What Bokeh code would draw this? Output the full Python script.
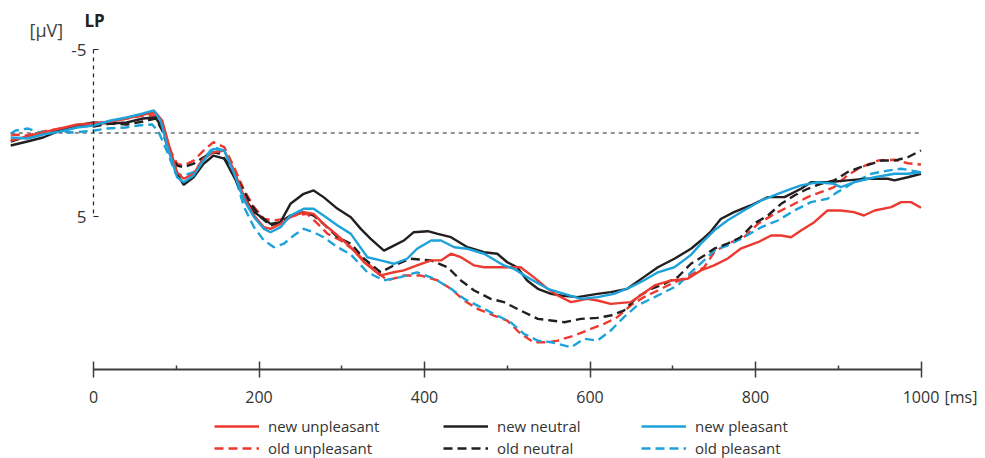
from bokeh.plotting import figure
from bokeh.models import Range1d, LinearAxis, FixedTicker, Label, Legend, LegendItem
from bokeh.embed import file_html
from bokeh.resources import INLINE

# ---- ERP averages at LP site (time in ms, amplitude in µV) ----
t_new_unpleasant = [-100, -80, -61, -40, -20, 0, 21, 40, 60, 75, 83, 93, 101, 109, 121, 133, 145, 158, 170, 182,
                    194, 206, 214, 226, 238, 254, 266, 278, 295, 311, 327, 347, 363, 375, 391, 408, 420, 432, 444, 460,
                    472, 516, 532, 549, 561, 577, 597, 609, 625, 649, 661, 678, 698, 718, 734, 750, 766, 782, 803, 819,
                    831, 843, 855, 871, 887, 903, 919, 931, 944, 964, 976, 988, 1000]
v_new_unpleasant = [0.45, 0.21, -0.03, -0.27, -0.51, -0.57, -0.69, -0.87, -1.11, -1.23, -0.75, 1.05, 2.35, 2.74, 2.44,
                    1.54, 1.15, 1.05, 2.25, 3.84, 4.94, 5.64, 5.74, 5.44, 5.04, 4.74, 4.84, 5.44, 6.14, 6.84, 7.74,
                    8.53, 8.34, 8.23, 7.93, 7.63, 7.63, 7.23, 7.44, 7.93, 8.04, 8.04, 8.63, 9.33, 9.73, 10.13, 9.93,
                    10.03, 10.23, 10.13, 9.73, 9.13, 8.83, 8.73, 8.23, 7.93, 7.53, 6.93, 6.54, 6.14, 6.14, 6.24, 5.84,
                    5.34, 4.64, 4.64, 4.74, 4.94, 4.64, 4.44, 4.14, 4.14, 4.48]

t_new_neutral = [-100, -80, -61, -40, -20, 0, 21, 40, 60, 75, 83, 89, 95, 101, 109, 121, 133, 145, 158, 170, 182, 194,
                 206, 214, 226, 238, 254, 266, 278, 295, 311, 323, 335, 351, 363, 375, 387, 404, 416, 432, 452, 472,
                 488, 500, 512, 524, 537, 553, 565, 585, 609, 625, 645, 665, 682, 702, 722, 734, 746, 758, 774, 794,
                 815, 835, 855, 867, 887, 911, 936, 960, 968, 984, 1000]
v_new_neutral = [0.75, 0.51, 0.27, -0.15, -0.45, -0.63, -0.57, -0.63, -0.87, -0.93, -0.27, 0.45, 1.45, 2.44, 3.10,
                 2.65, 1.84, 1.35, 1.54, 2.65, 3.84, 4.74, 5.14, 5.44, 5.34, 4.24, 3.64, 3.44, 3.84, 4.54, 5.04, 5.74,
                 6.34, 7.04, 6.74, 6.44, 5.94, 5.88, 6.04, 6.24, 6.84, 7.14, 7.23, 7.74, 8.04, 8.83, 9.33, 9.63, 9.73,
                 9.83, 9.63, 9.53, 9.33, 8.63, 8.04, 7.53, 6.93, 6.44, 5.9, 5.15, 4.74, 4.34, 3.84, 3.84, 3.34, 2.95,
                 2.95, 2.84, 2.74, 2.74, 2.84, 2.65, 2.44]

t_new_pleasant = [-100, -80, -61, -40, -20, 0, 21, 40, 60, 73, 81, 89, 101, 109, 121, 133, 145, 158, 170, 182, 194,
                  206, 214, 226, 238, 254, 266, 278, 295, 311, 331, 347, 363, 379, 391, 408, 420, 436, 452, 472, 496,
                  508, 524, 549, 569, 589, 609, 629, 649, 665, 682, 702, 722, 734, 750, 766, 786, 807, 827, 843, 855,
                  875, 895, 903, 919, 944, 968, 984, 1000]
v_new_pleasant = [0.27, 0.33, 0.09, -0.09, -0.33, -0.45, -0.75, -0.93, -1.17, -1.35, -0.75, 0.75, 2.65, 2.95, 2.54,
                  1.65, 0.95, 1.05, 2.44, 4.04, 5.04, 5.74, 5.94, 5.64, 4.94, 4.54, 4.54, 4.94, 5.54, 6.04, 7.44, 7.63,
                  7.83, 7.53, 6.93, 6.44, 6.44, 6.84, 6.93, 7.23, 7.93, 8.13, 8.63, 9.33, 9.63, 9.93, 9.83, 9.63, 9.23,
                  8.83, 8.34, 8.04, 7.3, 6.63, 5.84, 5.24, 4.64, 4.04, 3.64, 3.34, 3.14, 2.95, 3.04, 3.24, 2.95, 2.65,
                  2.44, 2.44, 2.35]

t_old_unpleasant = [-100, -80, -61, -40, -20, 0, 21, 40, 60, 75, 83, 93, 101, 109, 121, 133, 145, 158, 170, 182, 194,
                    206, 218, 230, 242, 258, 271, 283, 299, 315, 327, 355, 375, 395, 416, 432, 448, 464, 484, 500, 516,
                    532, 549, 561, 581, 601, 617, 633, 649, 665, 682, 698, 718, 738, 750, 766, 786, 803, 823, 843, 863,
                    879, 895, 911, 927, 948, 968, 984, 1000]
v_old_unpleasant = [0.09, 0.15, -0.09, -0.27, -0.39, -0.45, -0.69, -0.87, -1.05, -1.05, -0.45, 1.05, 1.84, 1.95, 1.65,
                    1.05, 0.55, 0.85, 2.05, 3.44, 4.44, 5.14, 5.24, 5.14, 4.94, 4.84, 5.44, 6.04, 6.44, 7.04, 7.63,
                    8.83, 8.53, 8.53, 8.83, 9.33, 10.03, 10.53, 10.93, 11.23, 12.02, 12.53, 12.53, 12.43, 12.13, 11.73,
                    11.43, 11.03, 10.33, 9.83, 9.43, 9.03, 8.63, 8.04, 7.15, 6.63, 6.24, 5.44, 4.84, 4.34, 3.84, 3.54,
                    3.24, 2.54, 2.05, 1.65, 1.60, 1.81, 1.89]

t_old_neutral = [-100, -80, -61, -40, -20, 0, 21, 40, 60, 75, 83, 93, 101, 109, 121, 133, 145, 154, 166, 178, 190, 202,
                 214, 226, 238, 254, 266, 278, 295, 311, 327, 347, 363, 383, 408, 428, 444, 460, 480, 496, 516, 537,
                 553, 569, 589, 609, 625, 641, 657, 674, 690, 706, 722, 738, 750, 766, 782, 798, 815, 831, 847, 863,
                 879, 895, 911, 927, 952, 968, 984, 1000]
v_old_neutral = [0.51, 0.21, 0.03, -0.21, -0.45, -0.39, -0.57, -0.51, -0.69, -0.87, -0.15, 1.35, 1.95, 2.05, 1.84,
                 1.45, 1.15, 1.25, 2.05, 3.14, 4.24, 5.04, 5.54, 5.34, 4.94, 4.74, 4.94, 5.44, 6.24, 6.63, 7.53, 8.34,
                 7.93, 7.53, 7.63, 8.04, 8.83, 9.43, 9.93, 10.13, 10.63, 11.13, 11.23, 11.33, 11.13, 11.07, 10.93,
                 10.63, 9.83, 9.33, 9.03, 8.63, 7.83, 7.34, 6.93, 6.63, 6.24, 5.44, 4.94, 4.24, 3.74, 3.34, 3.04, 2.84,
                 2.35, 2.05, 1.65, 1.65, 1.45, 1.05]

t_old_pleasant = [-100, -94, -79, -67, -50, -25, 2, 15, 39, 54, 71, 79, 91, 99, 109, 121, 133, 145, 158, 170, 182, 194,
                  206, 218, 230, 242, 254, 266, 278, 295, 311, 331, 351, 371, 391, 412, 432, 448, 468, 484, 504, 520,
                  537, 553, 561, 577, 593, 609, 625, 641, 657, 674, 690, 706, 722, 742, 750, 766, 786, 807, 827, 847,
                  867, 887, 899, 919, 940, 960, 976, 1000]
v_old_pleasant = [0.03, -0.15, -0.27, -0.03, -0.15, -0.03, -0.15, -0.27, -0.33, -0.45, -0.51, -0.03, 1.35, 2.42, 2.54,
                  2.35, 1.54, 0.85, 1.05, 2.44, 4.44, 5.64, 6.44, 6.84, 6.63, 6.14, 5.74, 5.94, 6.24, 6.84, 7.28, 8.34,
                  8.83, 8.63, 8.34, 8.73, 9.33, 9.93, 10.43, 10.83, 11.33, 12.02, 12.43, 12.53, 12.62, 12.83, 12.32,
                  12.43, 11.83, 11.03, 10.33, 9.93, 9.53, 9.13, 8.34, 7.44, 7.04, 6.74, 6.24, 5.64, 5.24, 4.64, 4.14,
                  3.94, 3.54, 2.95, 2.44, 2.25, 2.14, 2.35]

x_major_ticks = [0, 200, 400, 600, 800, 1000]
x_tick_labels = ["0", "200", "400", "600", "800", "1000"]
x_minor_ticks = [100, 300, 500, 700, 900]
y_ticks = [-5, 5]
y_tick_labels = ["-5", "5"]

RED, BLACK, BLUE = "#EC3A30", "#231F20", "#1EA2DA"
FONT = "Open Sans"
TEXT = "#333333"

# ---- canvas geometry: the frame fills the whole canvas ----
W, H = 985, 458
X0_PX, PX_PER_MS = 93.0, 0.8275      # pixel of 0 ms, pixels per ms
Y0_PX, PX_PER_UV = 132.5, 16.7       # pixel of 0 µV, pixels per µV (negative up)


def xdata(px):
    return (px - X0_PX) / PX_PER_MS


def ydata(py):
    return (py - Y0_PX) / PX_PER_UV


p = figure(width=W, height=H, output_backend="svg", toolbar_location=None,
           x_range=Range1d(xdata(0), xdata(W)), y_range=Range1d(ydata(H), ydata(0)),
           x_axis_location=None, y_axis_location=None, min_border=0)
p.outline_line_color = None
p.background_fill_color = "white"
p.border_fill_color = "white"
p.xgrid.visible = False
p.ygrid.visible = False

# baseline at 0 µV across the recorded epoch
all_t = (t_new_unpleasant + t_new_neutral + t_new_pleasant +
         t_old_unpleasant + t_old_neutral + t_old_pleasant)
p.line([min(all_t), max(all_t)], [0, 0], line_color="#222222", line_width=1.2, line_dash="4 4")

W_LINE = 2.4
DASH = "9 5"
r_ou = p.line(t_old_unpleasant, v_old_unpleasant, line_color=RED, line_width=W_LINE, line_dash=DASH)
r_op = p.line(t_old_pleasant, v_old_pleasant, line_color=BLUE, line_width=W_LINE, line_dash=DASH)
r_on = p.line(t_old_neutral, v_old_neutral, line_color=BLACK, line_width=W_LINE, line_dash=DASH)
r_nn = p.line(t_new_neutral, v_new_neutral, line_color=BLACK, line_width=W_LINE)
r_nu = p.line(t_new_unpleasant, v_new_unpleasant, line_color=RED, line_width=W_LINE)
r_np = p.line(t_new_pleasant, v_new_pleasant, line_color=BLUE, line_width=W_LINE)

# time axis drawn below the traces
xaxis = LinearAxis(fixed_location=ydata(369), bounds=(0, 1000),
                   ticker=FixedTicker(ticks=x_major_ticks, minor_ticks=x_minor_ticks),
                   major_label_overrides={t: s for t, s in zip(x_major_ticks, x_tick_labels)})
xaxis.axis_line_color = "#3d3d3d"
xaxis.axis_line_width = 2
xaxis.major_tick_line_color = "#3d3d3d"
xaxis.major_tick_line_width = 1.5
xaxis.major_tick_in = 8
xaxis.major_tick_out = 8
xaxis.minor_tick_line_color = "#3d3d3d"
xaxis.minor_tick_line_width = 1.5
xaxis.minor_tick_in = 4
xaxis.minor_tick_out = 0
xaxis.major_label_standoff = 13
xaxis.major_label_text_font = FONT
xaxis.major_label_text_font_size = "16px"
xaxis.major_label_text_color = TEXT
p.add_layout(xaxis, "below")

# amplitude axis: dotted line at stimulus onset
yaxis = LinearAxis(fixed_location=0, bounds=(-5, 5),
                   ticker=FixedTicker(ticks=y_ticks, minor_ticks=[]),
                   major_label_overrides={t: s for t, s in zip(y_ticks, y_tick_labels)})
yaxis.axis_line_color = "#222222"
yaxis.axis_line_width = 1.2
yaxis.axis_line_dash = "4 4"
yaxis.major_tick_line_color = "#222222"
yaxis.major_tick_line_width = 1.2
yaxis.major_tick_in = 5
yaxis.major_tick_out = 0
yaxis.major_label_standoff = 7
yaxis.major_label_text_font = FONT
yaxis.major_label_text_font_size = "17px"
yaxis.major_label_text_color = TEXT
p.add_layout(yaxis, "left")

# unit and site captions
p.add_layout(Label(x=xdata(29), y=ydata(29), text="[µV]", text_font=FONT, text_font_size="18px",
                   text_color="#444444", text_baseline="middle", text_align="left"))
p.add_layout(Label(x=xdata(84), y=ydata(20), text="LP", text_font=FONT, text_font_size="17px",
                   text_font_style="bold", text_color="#222222", text_baseline="middle", text_align="left"))
p.add_layout(Label(x=xdata(944), y=ydata(396), text="[ms]", text_font=FONT, text_font_size="16px",
                   text_color=TEXT, text_baseline="middle", text_align="left"))

# three legend columns, each with a new / old pair
columns = [
    (214, [("new unpleasant", r_nu), ("old unpleasant", r_ou)]),
    (443, [("new neutral", r_nn), ("old neutral", r_on)]),
    (641, [("new pleasant", r_np), ("old pleasant", r_op)]),
]
for left_px, entries in columns:
    leg = Legend(items=[LegendItem(label=lbl, renderers=[r]) for lbl, r in entries],
                 location=(left_px, 0), orientation="vertical",
                 glyph_width=45, glyph_height=20, label_height=20, label_standoff=9,
                 spacing=2, padding=0, margin=0,
                 label_text_font=FONT, label_text_font_size="15px", label_text_color=TEXT,
                 border_line_alpha=0, background_fill_alpha=0)
    p.add_layout(leg)

open("out.html", "w").write(file_html(p, INLINE))
